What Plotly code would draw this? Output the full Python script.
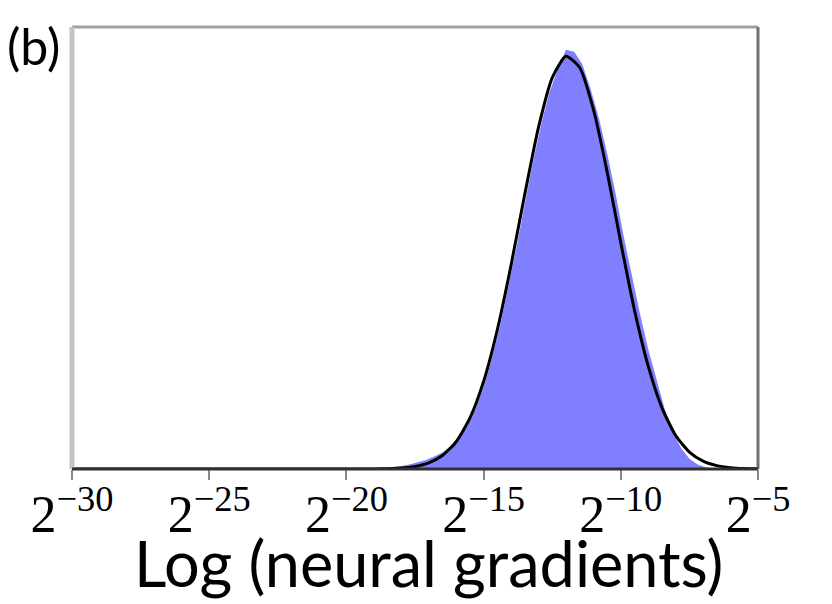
import plotly.graph_objects as go

# Histogram of log2(|gradient|): bin centers (log2 units) and relative counts
hist_centers = [-18.9, -18.6, -18.3, -18.0, -17.7, -17.4, -17.1, -16.8, -16.5, -16.2,
                -15.9, -15.6, -15.3, -15.0, -14.7, -14.4, -14.1, -13.8, -13.5, -13.2,
                -12.9, -12.6, -12.3, -12.0, -11.7, -11.4, -11.1, -10.8, -10.5, -10.2,
                -9.9, -9.6, -9.3, -9.0, -8.7, -8.4, -8.1, -7.8, -7.5, -7.2, -6.9, -6.6]
hist_counts = [0.0, 0.002, 0.004, 0.007, 0.011, 0.016, 0.022, 0.030, 0.040, 0.055,
               0.075, 0.103, 0.143, 0.198, 0.266, 0.346, 0.438, 0.537, 0.641, 0.743,
               0.835, 0.912, 0.967, 1.015, 1.01, 0.98, 0.92, 0.85, 0.765, 0.67,
               0.565, 0.47, 0.375, 0.29, 0.215, 0.145, 0.09, 0.05, 0.025, 0.011, 0.004, 0.0]

# Fitted curve (black line)
fit_x = [-30, -22, -20, -19, -18.5, -18, -17.5, -17, -16.5, -16, -15.5, -15, -14.5, -14,
         -13.5, -13, -12.5, -12, -11.5, -11, -10.5, -10, -9.5, -9, -8.5, -8,
         -7.5, -7, -6.5, -6, -5.5, -5]
fit_y = [0.0, 0.0, 0.0, 0.0003, 0.0009, 0.0024, 0.0062, 0.0148, 0.0326, 0.066, 0.123, 0.212,
         0.337, 0.493, 0.665, 0.827, 0.947, 0.999, 0.972, 0.871, 0.720, 0.548, 0.384,
         0.249, 0.148, 0.081, 0.041, 0.019, 0.0082, 0.0033, 0.0012, 0.0004]

tick_vals = [-30, -25, -20, -15, -10, -5]
tick_text = ["2<sup>−30</sup>", "2<sup>−25</sup>", "2<sup>−20</sup>",
             "2<sup>−15</sup>", "2<sup>−10</sup>", "2<sup>−5</sup>"]

fig = go.Figure()
fig.add_trace(go.Scatter(x=hist_centers, y=hist_counts, mode="lines",
                         fill="tozeroy", fillcolor="#8080ff",
                         line=dict(width=0, color="#8080ff"),
                         showlegend=False, hoverinfo="skip"))
fig.add_trace(go.Scatter(x=fit_x, y=fit_y, mode="lines",
                         line=dict(color="black", width=3, shape="spline", smoothing=0.6),
                         showlegend=False, hoverinfo="skip"))

fig.update_layout(
    width=832, height=604,
    margin=dict(l=64, r=82, t=19, b=143),
    paper_bgcolor="white", plot_bgcolor="white",
    xaxis=dict(range=[-30, -5], tickvals=tick_vals, ticktext=tick_text,
               ticks="outside", ticklen=10, tickwidth=2, tickcolor="#888888",
               ticklabelstandoff=-10,
               showgrid=False, zeroline=False, showline=False, automargin=False,
               tickfont=dict(family="Liberation Serif", size=52, color="black")),
    yaxis=dict(range=[0, 1.07], showticklabels=False, ticks="", showgrid=False,
               zeroline=False, showline=False, automargin=False),
    shapes=[
        dict(type="line", xref="paper", yref="paper", x0=0, x1=1, y0=1, y1=1,
             line=dict(color="#a0a0a0", width=3)),
        dict(type="line", xref="paper", yref="paper", x0=0, x1=0, y0=0, y1=1,
             line=dict(color="#c4c4c4", width=5)),
        dict(type="line", xref="paper", yref="paper", x0=1, x1=1, y0=0, y1=1,
             line=dict(color="#707070", width=3)),
        dict(type="line", xref="paper", yref="paper", x0=0, x1=1, y0=0, y1=0,
             line=dict(color="#303030", width=3)),
    ],
    annotations=[
        dict(text="(b)", xref="paper", yref="paper", x=-0.097, y=0.957,
             xanchor="left", yanchor="middle", showarrow=False,
             font=dict(family="Lato", size=50, color="black")),
        dict(text="Log (neural gradients)", xref="paper", yref="paper",
             x=0.52, y=0, yshift=-54, xanchor="center", yanchor="top",
             showarrow=False,
             font=dict(family="Lato", size=63, color="black")),
    ],
)

fig.write_html("out.html")
